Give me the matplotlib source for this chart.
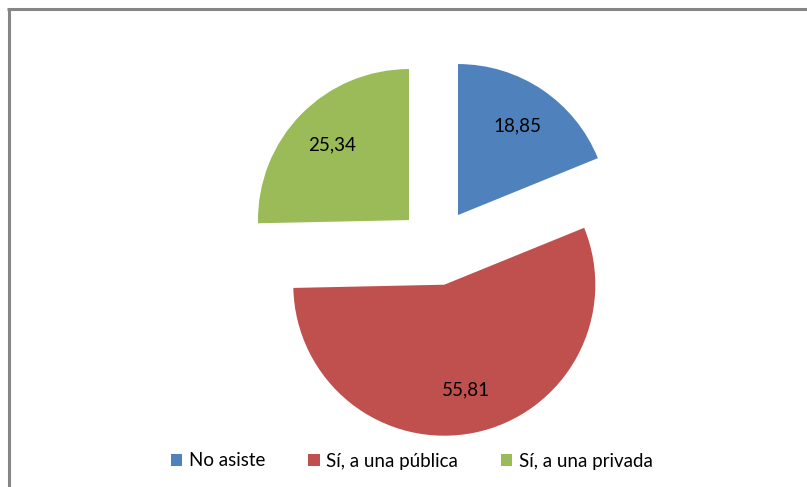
import matplotlib
matplotlib.use("Agg")
import matplotlib.pyplot as plt
from matplotlib.lines import Line2D

categories = ["No asiste", "Sí, a una pública", "Sí, a una privada"]
values = [18.85, 55.81, 25.34]
colors = ["#4F81BD", "#C0504D", "#9BBB59"]

W, H = 807, 487
fig = plt.figure(figsize=(W / 100, H / 100), dpi=100)
plt.rcParams['font.family'] = ['Lato', 'DejaVu Sans']
ax = fig.add_axes([0, 0, 1, 1])

labels_txt = [f"{v:.2f}".replace(".", ",") for v in values]
# explode offset is in data units (pixels here) because radius is in pixels
wedges, texts = ax.pie(values, colors=colors, startangle=90, counterclock=False,
                       explode=[38.5] * 3, radius=151, center=(436.5, H - 247),
                       labels=labels_txt, labeldistance=0.71,
                       textprops=dict(fontsize=13.5, color="black"),
                       frame=True)
for t in texts:
    t.set_ha("center")
    t.set_va("center")
ax.set_xlim(0, W)
ax.set_ylim(0, H)
ax.set_aspect('equal')
ax.axis('off')

# border (left and top)
fig.add_artist(Line2D([8.5 / W, 8.5 / W], [0, 1 - 8.5 / H], transform=fig.transFigure,
                      color="#868686", lw=2.2, solid_capstyle="butt"))
fig.add_artist(Line2D([7.4 / W, 1], [1 - 8.5 / H, 1 - 8.5 / H], transform=fig.transFigure,
                      color="#868686", lw=2.2, solid_capstyle="butt"))

leg = fig.legend(wedges, categories, loc="center", bbox_to_anchor=(412 / W, 26 / H),
                 ncol=3, frameon=False, fontsize=13.5, handlelength=0.6, handleheight=0.6,
                 handletextpad=0.35, columnspacing=2.3)

fig.savefig("out.png", dpi=100)
